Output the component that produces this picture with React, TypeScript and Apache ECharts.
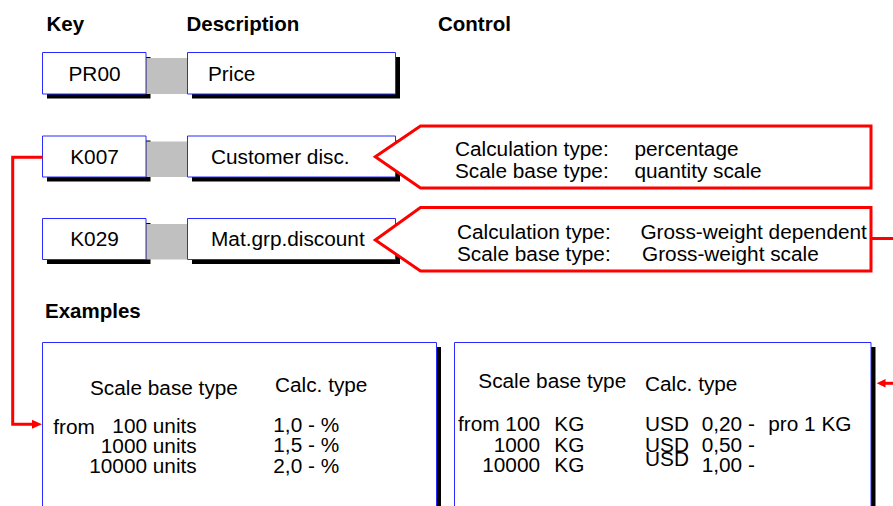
import React, { useEffect, useRef } from "react";
import * as echarts from "echarts";

// ---- Content (texts of the diagram) ----
const HEADERS = ["Key", "Description", "Control"];
const KEYS = ["PR00", "K007", "K029"];
const DESCRIPTIONS = ["Price", "Customer disc.", "Mat.grp.discount"];
const CONTROL_LABELS = ["Calculation type:", "Scale base type:"];
const CONTROL_VALUES_K007 = ["percentage", "quantity scale"];
const CONTROL_VALUES_K029 = ["Gross-weight dependent", "Gross-weight scale"];
const EXAMPLES_TITLE = "Examples";
const EXAMPLE_HEADERS = ["Scale base type", "Calc. type"];
const EX1_FROM = "from";
const EX1_QUANTITIES = ["100 units", "1000 units", "10000 units"];
const EX1_CALC = ["1,0 - %", "1,5 - %", "2,0 - %"];
const EX2_QUANTITIES = ["from 100", "1000", "10000"];
const EX2_UNIT = "KG";
const EX2_CURRENCY = ["USD", "USD", "USD"];
const EX2_AMOUNTS = ["0,20 -", "0,50 -", "1,00 -"];
const EX2_NOTE = "pro 1 KG";

const FONT = "'Liberation Sans', Arial, Helvetica, sans-serif";
const RED = "#ff0000";
const BLUE = "#2a2aff";
const FS = 20;

function txt(text: string, x: number, y: number, opts: any = {}) {
  const align = opts.align || "left";
  return {
    type: "text",
    x,
    y,
    scaleX: opts.sx ?? 1.04,
    z: opts.z ?? 20,
    style: {
      text,
      fill: "#000",
      fontSize: opts.size ?? FS,
      lineHeight: 18,
      fontWeight: opts.bold ? "bold" : "normal",
      fontFamily: FONT,
      align,
      textAlign: align,
      verticalAlign: "middle",
      textVerticalAlign: "middle",
    },
  };
}

function box(x: number, y: number, w: number, h: number, z = 5) {
  return [
    { type: "rect", z, shape: { x: x + 4.5, y: y + 4.5, width: w, height: h }, style: { fill: "#000" } },
    { type: "rect", z: z + 2, shape: { x, y, width: w, height: h }, style: { fill: "#fff", stroke: BLUE, lineWidth: 1 } },
  ];
}

export default function App() {
  const ref = useRef<HTMLDivElement>(null);
  useEffect(() => {
    document.body.style.margin = "0";
    const chart = echarts.init(ref.current!, null, { renderer: "svg" });
    const els: any[] = [];

    // headers
    const headerX = [46.5, 186.5, 438];
    HEADERS.forEach((h, i) => els.push(txt(h, headerX[i], 23.5, { bold: true, size: 20.5, sx: 1 })));

    // rows
    const rowY = [52.5, 136, 218.5];
    const rowH = [41.5, 41, 41];
    KEYS.forEach((k, i) => {
      const y = rowY[i];
      const h = rowH[i];
      els.push(...box(42.5, y, 103.5, h));
      els.push(...box(187.5, y, 208, h));
      els.push({ type: "rect", z: 9, shape: { x: 146.5, y: y + 5.5, width: 40.5, height: h - 5.5 }, style: { fill: "#c0c0c0" } });
      const cy = y + h / 2 + 0.5;
      els.push(txt(k, 94.5, cy, { align: "center" }));
      els.push(txt(DESCRIPTIONS[i], i === 0 ? 208 : 211, cy));
    });

    // callouts
    const callouts = [
      { tipY: 156.7, top: 126, bottom: 188, labelX: 455, valX: [634.5, 634.5], lineY: [149, 171], values: CONTROL_VALUES_K007 },
      { tipY: 240, top: 207.5, bottom: 271, labelX: 457, valX: [640.4, 642], lineY: [232.3, 254.4], values: CONTROL_VALUES_K029 },
    ];
    callouts.forEach((c) => {
      els.push({
        type: "polygon",
        z: 30,
        shape: { points: [[375.3, c.tipY], [420.5, c.top], [871, c.top], [871, c.bottom], [420.5, c.bottom]] },
        style: { fill: "#fff", stroke: RED, lineWidth: 3, lineJoin: "miter" },
      });
      CONTROL_LABELS.forEach((l, j) => {
        els.push(txt(l, c.labelX, c.lineY[j], { z: 40 }));
        els.push(txt(c.values[j], c.valX[j], c.lineY[j], { z: 40 }));
      });
    });

    // left connector K007 -> example 1
    els.push({
      type: "polyline",
      z: 25,
      shape: { points: [[42.5, 157.3], [12.7, 157.3], [12.7, 424.3], [34, 424.3]] },
      style: { stroke: RED, lineWidth: 3, fill: null, lineJoin: "miter" },
    });
    els.push({ type: "polygon", z: 26, shape: { points: [[42, 424.3], [32, 419.8], [32, 428.8]] }, style: { fill: RED } });

    // right connector K029 -> example 2
    els.push({ type: "polyline", z: 25, shape: { points: [[871, 238.5], [900, 238.5]] }, style: { stroke: RED, lineWidth: 3, fill: null } });
    els.push({ type: "polyline", z: 25, shape: { points: [[900, 383.3], [884, 383.3]] }, style: { stroke: RED, lineWidth: 3, fill: null } });
    els.push({ type: "polygon", z: 26, shape: { points: [[876.7, 383.3], [885.5, 379], [885.5, 387.6]] }, style: { fill: RED } });

    // examples
    els.push(txt(EXAMPLES_TITLE, 45, 310.5, { bold: true, size: 20.5, sx: 1 }));
    els.push(...box(42.5, 342.5, 394, 200));
    els.push(...box(454.5, 342.5, 416.5, 200));

    // example 1
    els.push(txt(EXAMPLE_HEADERS[0], 90, 388.3));
    els.push(txt(EXAMPLE_HEADERS[1], 275, 384.7));
    els.push(txt(EX1_FROM, 53.3, 426.7));
    const ex1Y = [426.3, 446.3, 466.3];
    const ex1CalcY = [424.8, 444.8, 466.5];
    EX1_QUANTITIES.forEach((q, i) => {
      els.push(txt(q, 196.7, ex1Y[i], { align: "right" }));
      els.push(txt(EX1_CALC[i], 273.3, ex1CalcY[i]));
    });

    // example 2
    els.push(txt(EXAMPLE_HEADERS[0], 478.3, 381.3));
    els.push(txt(EXAMPLE_HEADERS[1], 645, 383.7));
    const ex2Y = [424.5, 444.8, 465.3];
    const curY = [424.5, 444.8, 458.8];
    EX2_QUANTITIES.forEach((q, i) => {
      els.push(txt(q, 540, ex2Y[i], { align: "right" }));
      els.push(txt(EX2_UNIT, 554.3, ex2Y[i]));
      els.push(txt(EX2_CURRENCY[i], 645, curY[i]));
      els.push(txt(EX2_AMOUNTS[i], 701.7, ex2Y[i]));
    });
    els.push(txt(EX2_NOTE, 768.3, ex2Y[0]));

    chart.setOption({
      animation: false,
      backgroundColor: "#fff",
      graphic: { elements: els },
    });
    return () => chart.dispose();
  }, []);
  return <div ref={ref} style={{ position: "fixed", left: 0, top: 0, width: 893, height: 506 }} />;
}
